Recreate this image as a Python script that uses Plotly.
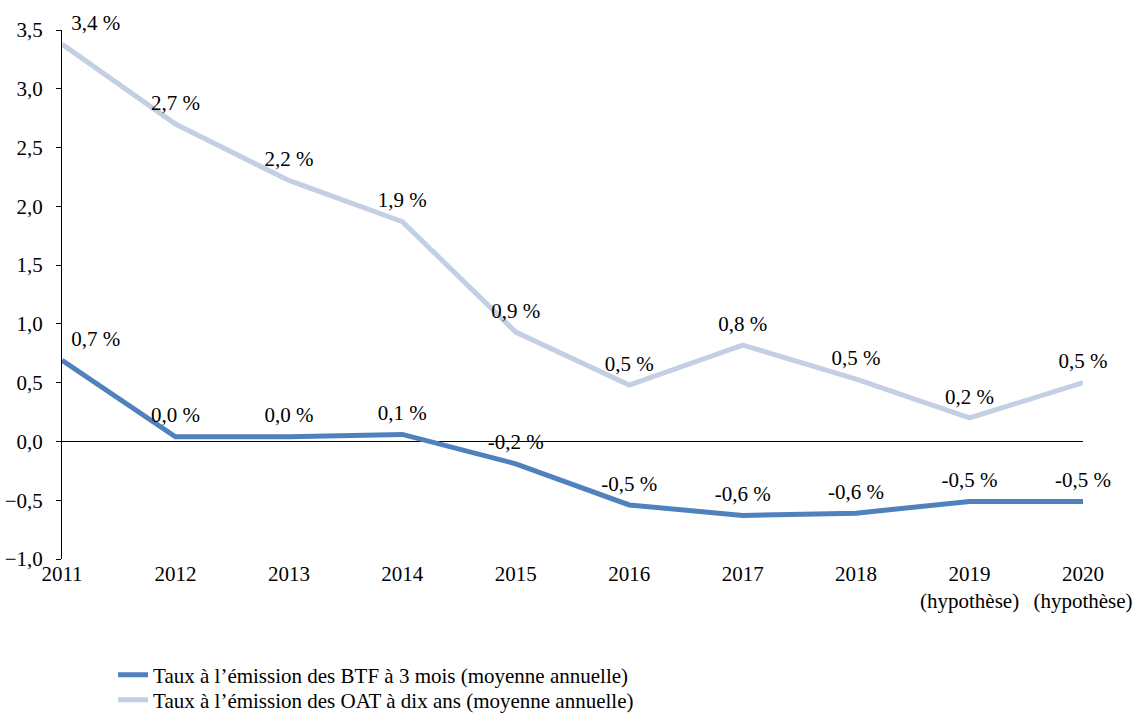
import plotly.graph_objects as go

years = ["2011", "2012", "2013", "2014", "2015", "2016", "2017", "2018",
         "2019<br>(hypothèse)", "2020<br>(hypothèse)"]
btf_3m = [0.69, 0.04, 0.04, 0.06, -0.19, -0.54, -0.63, -0.61, -0.51, -0.51]
oat_10y = [3.38, 2.70, 2.22, 1.87, 0.93, 0.48, 0.82, 0.53, 0.20, 0.50]
series_names = [
    "Taux à l’émission des BTF à 3 mois (moyenne annuelle)",
    "Taux à l’émission des OAT à dix ans (moyenne annuelle)",
]

FONT = "Liberation Serif"
SIZE = 21


def pct_label(v):
    return f"{v:.1f}".replace(".", ",") + "\u00a0%"


positions = ["top right"] + ["top center"] * (len(years) - 1)

fig = go.Figure()
for name, vals, color, leg in [
    (series_names[0], btf_3m, "#4F81BD", "legend"),
    (series_names[1], oat_10y, "#C3CFE2", "legend2"),
]:
    fig.add_trace(go.Scatter(
        x=years, y=vals, name=name, mode="lines+markers+text",
        line=dict(color=color, width=5),
        # invisible markers only to lift the value labels off the line
        marker=dict(size=13, color="rgba(0,0,0,0)"),
        text=[pct_label(v) for v in vals],
        textposition=positions,
        textfont=dict(family=FONT, size=SIZE, color="#000000"),
        cliponaxis=False,
        legend=leg,
    ))

legend_common = dict(
    orientation="v", x=0.05, xanchor="left", yref="container",
    yanchor="middle", font=dict(family=FONT, size=SIZE),
    bgcolor="rgba(0,0,0,0)",
)

fig.update_layout(
    width=1135, height=716,
    margin=dict(l=62, r=52, t=30, b=157),
    paper_bgcolor="white", plot_bgcolor="white",
    separators=", ",
    font=dict(family=FONT, size=SIZE, color="#000000"),
    showlegend=True,
    legend=dict(legend_common, y=1 - 675 / 716),
    legend2=dict(legend_common, y=1 - 700 / 716),
    xaxis=dict(
        type="category", range=[0, len(years) - 1], automargin=False,
        showgrid=False, showline=False, ticks="", zeroline=False,
        tickfont=dict(family=FONT, size=SIZE),
    ),
    yaxis=dict(
        range=[-1.0, 3.5], dtick=0.5, tick0=0, tickformat=".1f",
        automargin=False,
        showgrid=False, showline=True, linecolor="#000000", linewidth=1,
        ticks="outside", ticklen=5, tickcolor="#000000",
        ticklabelstandoff=9,
        zeroline=True, zerolinecolor="#000000", zerolinewidth=1,
        tickfont=dict(family=FONT, size=SIZE),
    ),
)

fig.write_html("out.html")
